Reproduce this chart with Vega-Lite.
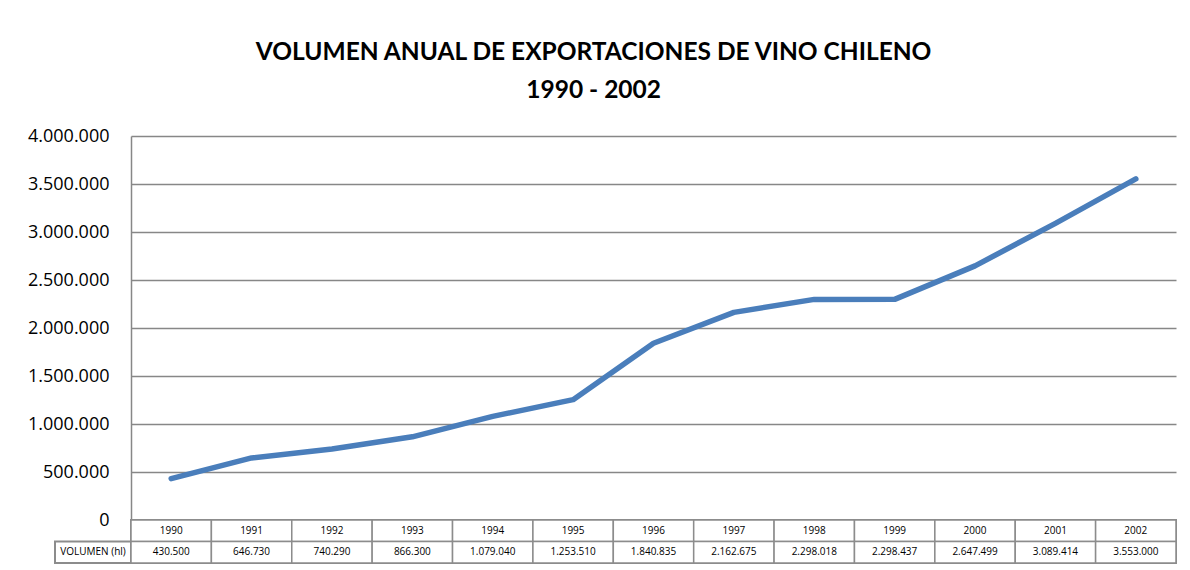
{
  "$schema": "https://vega.github.io/schema/vega-lite/v6.json",
  "background": "white",
  "padding": {"left": 27, "top": 39, "right": 10, "bottom": 5},
  "title": {
    "text": ["VOLUMEN ANUAL DE EXPORTACIONES DE VINO CHILENO", "1990 - 2002"],
    "font": "Lato",
    "fontSize": 24.5,
    "fontWeight": "bold",
    "color": "black",
    "lineHeight": 38,
    "anchor": "middle",
    "dx": -9,
    "offset": 24
  },
  "config": {
    "locale": {"number": {"decimal": ",", "thousands": ".", "grouping": [3], "currency": ["$", ""]}},
    "view": {"stroke": null},
    "font": "Open Sans"
  },
  "datasets": {
    "vino": [
      {"year": "1990", "volumen": 430500},
      {"year": "1991", "volumen": 646730},
      {"year": "1992", "volumen": 740290},
      {"year": "1993", "volumen": 866300},
      {"year": "1994", "volumen": 1079040},
      {"year": "1995", "volumen": 1253510},
      {"year": "1996", "volumen": 1840835},
      {"year": "1997", "volumen": 2162675},
      {"year": "1998", "volumen": 2298018},
      {"year": "1999", "volumen": 2298437},
      {"year": "2000", "volumen": 2647499},
      {"year": "2001", "volumen": 3089414},
      {"year": "2002", "volumen": 3553000}
    ],
    "etiqueta": [{"fila": "VOLUMEN (hl)"}]
  },
  "columns": 2,
  "spacing": 0,
  "bounds": "flush",
  "concat": [
    {
      "width": 76,
      "height": 384,
      "data": {"name": "etiqueta"},
      "mark": {"type": "text"},
      "encoding": {"text": {"value": ""}}
    },
    {
      "width": 1045,
      "height": 384,
      "data": {"name": "vino"},
      "mark": {"type": "line", "color": "#4a7ebb", "strokeWidth": 5.5, "strokeCap": "round", "strokeJoin": "round"},
      "encoding": {
        "x": {"field": "year", "type": "ordinal", "scale": {"type": "point", "padding": 0.5}, "axis": null},
        "y": {
          "field": "volumen",
          "type": "quantitative",
          "scale": {"domain": [0, 4000000], "nice": false, "zero": true},
          "axis": {
            "title": null,
            "values": [0, 500000, 1000000, 1500000, 2000000, 2500000, 3000000, 3500000, 4000000],
            "format": ",d",
            "grid": true,
            "gridColor": "#878787",
            "gridWidth": 1.5,
            "domain": true,
            "domainColor": "#878787",
            "domainWidth": 1.5,
            "ticks": false,
            "labelPadding": 22,
            "labelFont": "Open Sans",
            "labelFontSize": 18,
            "labelColor": "black"
          }
        }
      }
    },
    {
      "width": 76,
      "height": 43,
      "data": {"name": "etiqueta"},
      "layer": [
        {
          "mark": {"type": "rect", "fill": "white", "stroke": "#8c8c8c", "strokeWidth": 2},
          "encoding": {
            "y": {"datum": "value", "type": "nominal", "scale": {"domain": ["year", "value"], "paddingInner": 0, "paddingOuter": 0}, "axis": null}
          }
        },
        {
          "mark": {"type": "text", "fontSize": 10, "color": "black"},
          "encoding": {
            "y": {"datum": "value", "type": "nominal"},
            "text": {"field": "fila"}
          }
        }
      ]
    },
    {
      "width": 1045,
      "height": 43,
      "data": {"name": "vino"},
      "view": {"stroke": "#8c8c8c", "strokeWidth": 2},
      "encoding": {
        "x": {"field": "year", "type": "ordinal", "scale": {"paddingInner": 0, "paddingOuter": 0}, "axis": null}
      },
      "layer": [
        {
          "mark": {"type": "rect", "fill": "white", "stroke": "#8c8c8c", "strokeWidth": 1.5},
          "encoding": {
            "y": {"datum": "year", "type": "nominal", "scale": {"domain": ["year", "value"], "paddingInner": 0, "paddingOuter": 0}, "axis": null}
          }
        },
        {
          "mark": {"type": "rect", "fill": "white", "stroke": "#8c8c8c", "strokeWidth": 1.5},
          "encoding": {
            "y": {"datum": "value", "type": "nominal"}
          }
        },
        {
          "mark": {"type": "text", "fontSize": 10, "color": "black"},
          "encoding": {
            "y": {"datum": "year", "type": "nominal"},
            "text": {"field": "year"}
          }
        },
        {
          "mark": {"type": "text", "fontSize": 10, "color": "black"},
          "encoding": {
            "y": {"datum": "value", "type": "nominal"},
            "text": {"field": "volumen", "type": "quantitative", "format": ",d"}
          }
        }
      ]
    }
  ]
}
